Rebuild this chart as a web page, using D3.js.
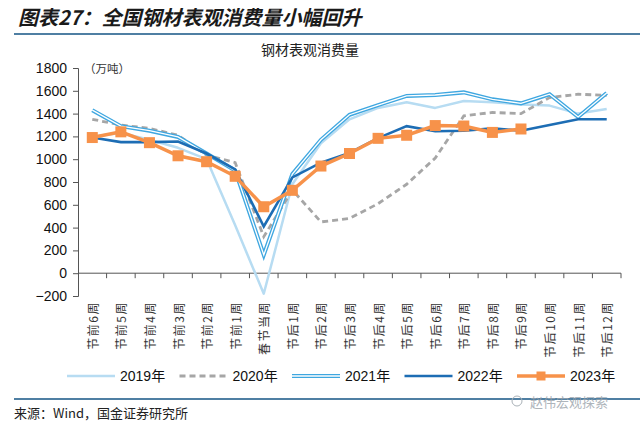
<!DOCTYPE html>
<html><head><meta charset="utf-8">
<script src="https://cdn.jsdelivr.net/npm/d3@7"></script>
<style>
body{margin:0;background:#fff}
svg{display:block}
</style>
</head><body>
<svg id="c" width="640" height="426"></svg>
<script>
// ---- data ----
const categories = ["节前6周","节前5周","节前4周","节前3周","节前2周","节前1周","春节当周",
  "节后1周","节后2周","节后3周","节后4周","节后5周","节后6周","节后7周","节后8周","节后9周",
  "节后10周","节后11周","节后12周"];
const seriesNames = ["2019年","2020年","2021年","2022年","2023年"];
const v2019 = [1200,1230,1170,1100,1000,420,-180,780,1140,1350,1450,1500,1450,1510,1500,1480,1470,1400,1440];
const v2020 = [1350,1300,1270,1210,1035,970,320,730,450,480,610,780,1010,1380,1410,1400,1540,1570,1560];
const v2021 = [1430,1290,1250,1195,1050,900,160,870,1170,1390,1475,1555,1563,1586,1525,1490,1570,1370,1580];
const v2022 = [1190,1150,1150,1155,1050,910,410,840,970,1055,1185,1290,1245,1250,1270,1250,1300,1350,1350];
const v2023 = [1190,1240,1145,1030,978,850,583,727,940,1050,1183,1210,1295,1291,1235,1265];
const yTicks = [-200,0,200,400,600,800,1000,1200,1400,1600,1800];
const titleText = "图表27：全国钢材表观消费量小幅回升";
const chartTitle = "钢材表观消费量";
const unitText = "（万吨）";
const sourceText = "来源：Wind，国金证券研究所";
const watermark = "赵伟宏观探索";

const colors = {c2019:"#b7dcf2", c2020:"#a6a6a6", c2021:"#3fa7e0", c2022:"#1d6db4", c2023:"#f7924a"};
const cjk = "'Noto Sans CJK SC','Noto Sans',sans-serif";
const latin = "'Liberation Sans',Arial,'Noto Sans CJK SC',sans-serif";

const svg = d3.select("#c");

// ---- header ----
svg.append("text").attr("x",18).attr("y",25).text(titleText)
  .attr("font-family",cjk).attr("font-size",20).attr("font-weight","bold")
  .attr("font-style","italic").attr("fill","#1a1a1a");
svg.append("line").attr("x1",14).attr("x2",640).attr("y1",34).attr("y2",34)
  .attr("stroke","#4f7fa3").attr("stroke-width",2);
svg.append("text").attr("x",310).attr("y",55).attr("text-anchor","middle").text(chartTitle)
  .attr("font-family",cjk).attr("font-size",14).attr("fill","#222");
svg.append("text").attr("x",84).attr("y",73).text(unitText)
  .attr("font-family",cjk).attr("font-size",11.5).attr("fill","#333");

// ---- scales ----
const x = d3.scaleBand().domain(categories).range([78,621]).padding(0);
const bw = x.bandwidth();
const cx = i => x(categories[i]) + bw/2;
const y = d3.scaleLinear().domain([-200,1800]).range([296,68]);

// ---- y axis ----
const yAxis = svg.append("g").attr("transform","translate(78,0)")
  .call(d3.axisLeft(y).tickValues(yTicks).tickSize(5).tickPadding(6).tickFormat(d3.format("d")));
yAxis.select(".domain").attr("stroke","#555");
yAxis.selectAll(".tick line").attr("stroke","#555");
yAxis.selectAll(".tick text").attr("font-family",latin).attr("font-size",14).attr("fill","#111");

// ---- x axis (at zero) ----
const x0 = y(0);
svg.append("line").attr("x1",78).attr("x2",621).attr("y1",x0).attr("y2",x0).attr("stroke","#555");
svg.append("g").selectAll("line").data(d3.range(1,categories.length+1)).join("line")
  .attr("x1",i=>78+i*bw).attr("x2",i=>78+i*bw).attr("y1",x0).attr("y2",x0+5).attr("stroke","#555");
svg.append("g").selectAll("text").data(categories).join("text")
  .attr("transform",(d,i)=>`translate(${cx(i)},301) rotate(-90)`)
  .attr("text-anchor","end").attr("dominant-baseline","central")
  .attr("font-family",cjk).attr("font-size",12).attr("letter-spacing","1.5px").attr("fill","#333")
  .text(d=>d);

// ---- lines ----
const line = d3.line().x((d,i)=>cx(i)).y(d=>y(d));
const g = svg.append("g");
g.append("path").datum(v2019).attr("d",line).attr("fill","none")
  .attr("stroke",colors.c2019).attr("stroke-width",2.5).attr("stroke-linejoin","round");
g.append("path").datum(v2020).attr("d",line).attr("fill","none")
  .attr("stroke",colors.c2020).attr("stroke-width",2.8).attr("stroke-dasharray","6,4");
g.append("path").datum(v2021).attr("d",line).attr("fill","none")
  .attr("stroke",colors.c2021).attr("stroke-width",4);
g.append("path").datum(v2021).attr("d",line).attr("fill","none")
  .attr("stroke","#fff").attr("stroke-width",1.3);
g.append("path").datum(v2022).attr("d",line).attr("fill","none")
  .attr("stroke",colors.c2022).attr("stroke-width",2.6);
g.append("path").datum(v2023).attr("d",line).attr("fill","none")
  .attr("stroke",colors.c2023).attr("stroke-width",3.5);
g.selectAll("rect.m").data(v2023).join("rect").attr("class","m")
  .attr("x",(d,i)=>cx(i)-5.5).attr("y",d=>y(d)-5.5).attr("width",11).attr("height",11)
  .attr("fill",colors.c2023);

// ---- legend ----
const ly = 376;
const leg = svg.append("g");
const legStyles = [
  {c:colors.c2019, w:2.5, dash:null},
  {c:colors.c2020, w:2.8, dash:"6,4"},
  {c:colors.c2021, w:4, dash:null, dbl:true},
  {c:colors.c2022, w:2.6, dash:null},
  {c:colors.c2023, w:3.5, dash:null, mark:true}
];
seriesNames.forEach((name,i)=>{
  const sx = 67 + i*112.5;
  const s = legStyles[i];
  leg.append("line").attr("x1",sx).attr("x2",sx+48).attr("y1",ly).attr("y2",ly)
    .attr("stroke",s.c).attr("stroke-width",s.w).attr("stroke-dasharray",s.dash);
  if (s.dbl) leg.append("line").attr("x1",sx).attr("x2",sx+48).attr("y1",ly).attr("y2",ly)
    .attr("stroke","#fff").attr("stroke-width",1.3);
  if (s.mark) leg.append("rect").attr("x",sx+24-4.5).attr("y",ly-4.5).attr("width",9).attr("height",9).attr("fill",s.c);
  leg.append("text").attr("x",sx+53).attr("y",ly).attr("dominant-baseline","central")
    .attr("font-family",latin).attr("font-size",14).attr("fill","#111").text(name);
});

// ---- footer ----
svg.append("line").attr("x1",14).attr("x2",640).attr("y1",399).attr("y2",399)
  .attr("stroke","#4f7fa3").attr("stroke-width",2);
svg.append("text").attr("x",14).attr("y",418).text(sourceText)
  .attr("font-family",cjk).attr("font-size",13).attr("fill","#222");
svg.append("text").attr("x",530).attr("y",401).attr("dominant-baseline","central").text(watermark)
  .attr("font-family",cjk).attr("font-size",13).attr("fill","#9aa3ab").attr("opacity",0.8);
svg.append("circle").attr("cx",517).attr("cy",401).attr("r",5).attr("fill","none")
  .attr("stroke","#aab2b8").attr("stroke-width",1);
</script>
</body></html>
